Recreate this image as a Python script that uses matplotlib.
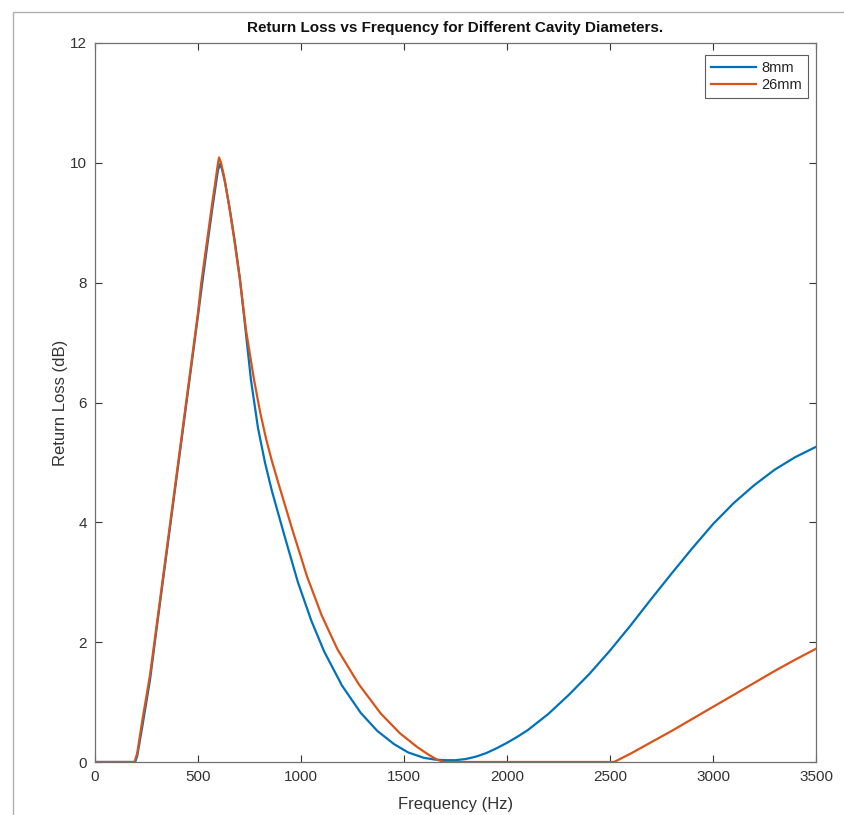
import matplotlib
matplotlib.use("Agg")
import matplotlib.pyplot as plt
from matplotlib.patches import Rectangle

# return loss readings, frequency in Hz, loss in dB
freq_8mm = [0, 150, 195, 205, 230, 267, 300, 350, 400, 450, 500, 520, 550, 570,
            585, 597, 607, 616, 631, 655, 680, 704, 728, 757, 791, 825, 859, 922,
            985, 1050, 1113, 1200, 1290, 1370, 1451, 1520, 1596, 1650, 1700, 1750,
            1800, 1850, 1900, 1950, 2000, 2050, 2100, 2200, 2300, 2400, 2500, 2600,
            2700, 2800, 2900, 3000, 3100, 3200, 3300, 3400, 3500]
loss_8mm = [0, 0, 0, 0.1, 0.6, 1.37, 2.25, 3.55, 4.85, 6.15, 7.45, 7.98, 8.75, 9.25,
            9.6, 9.88, 9.98, 9.9, 9.68, 9.21, 8.66, 8.05, 7.3, 6.38, 5.58, 5.0, 4.52, 3.75,
            3.0, 2.36, 1.84, 1.27, 0.82, 0.52, 0.3, 0.16, 0.07, 0.04, 0.03, 0.03,
            0.05, 0.09, 0.15, 0.23, 0.32, 0.42, 0.53, 0.8, 1.12, 1.47, 1.86, 2.28,
            2.72, 3.15, 3.57, 3.97, 4.32, 4.62, 4.88, 5.09, 5.26]

freq_26mm = [0, 150, 192, 205, 230, 267, 300, 350, 400, 450, 500, 516, 550, 570,
             585, 595, 602, 612, 626, 650, 675, 704, 733, 772, 801, 830, 859, 888,
             956, 1029, 1100, 1177, 1280, 1387, 1480, 1564, 1620, 1660, 1693, 2000,
             2300, 2520, 2600, 2700, 2800, 2900, 3000, 3100, 3200, 3300, 3400, 3500]
loss_26mm = [0, 0, 0, 0.15, 0.7, 1.45, 2.3, 3.6, 4.9, 6.2, 7.5, 8.0, 8.85, 9.35,
             9.7, 9.95, 10.09, 10.0, 9.78, 9.31, 8.74, 8.04, 7.21, 6.38, 5.85, 5.4, 5.02, 4.68,
             3.9, 3.1, 2.45, 1.88, 1.3, 0.81, 0.48, 0.25, 0.12, 0.04, 0.0, 0.0,
             0.0, 0.0, 0.14, 0.33, 0.52, 0.72, 0.92, 1.12, 1.32, 1.52, 1.71, 1.89]

x_ticks = [0, 500, 1000, 1500, 2000, 2500, 3000, 3500]
y_ticks = [0, 2, 4, 6, 8, 10, 12]

plt.rcParams["font.family"] = ["Liberation Sans", "DejaVu Sans"]

fig = plt.figure(figsize=(8.44, 8.15), dpi=100)
ax = fig.add_axes([95 / 844, 53 / 815, 721 / 844, 719 / 815])

# light frame round the whole figure window
fig.patches.append(Rectangle((13 / 844, -0.1), 1.2, 0.1 + 803 / 815,
                             transform=fig.transFigure, fill=False,
                             edgecolor="#b0b0b0", linewidth=1.0))

ax.plot(freq_8mm, loss_8mm, color="#0072BD", linewidth=1.6, label="8mm")
ax.plot(freq_26mm, loss_26mm, color="#D95319", linewidth=1.6, label="26mm")

ax.set_xlim(0, 3500)
ax.set_ylim(0, 12)
ax.set_xticks(x_ticks)
ax.set_yticks(y_ticks)
ax.tick_params(direction="in", length=5, width=0.8, top=True, right=True,
               labelsize=11, colors="#333333", pad=6)
for side in ax.spines.values():
    side.set_color("#707070")
    side.set_linewidth(0.9)

ax.set_title("Return Loss vs Frequency for Different Cavity Diameters.",
             fontsize=11, fontweight="bold", color="#111111", pad=8)
ax.set_xlabel("Frequency (Hz)", fontsize=12, color="#333333", labelpad=9)
ax.set_ylabel("Return Loss (dB)", fontsize=12, color="#333333", labelpad=1)

leg = ax.legend(loc="upper right", bbox_to_anchor=(0.989, 0.983), fontsize=10.5,
                frameon=True, fancybox=False, edgecolor="#333333",
                handlelength=3.1, handletextpad=0.35, borderpad=0.4,
                labelspacing=0.2, borderaxespad=0)
leg.get_frame().set_linewidth(0.8)
for t in leg.get_texts():
    t.set_color("#222222")

fig.savefig("out.png", dpi=100)
